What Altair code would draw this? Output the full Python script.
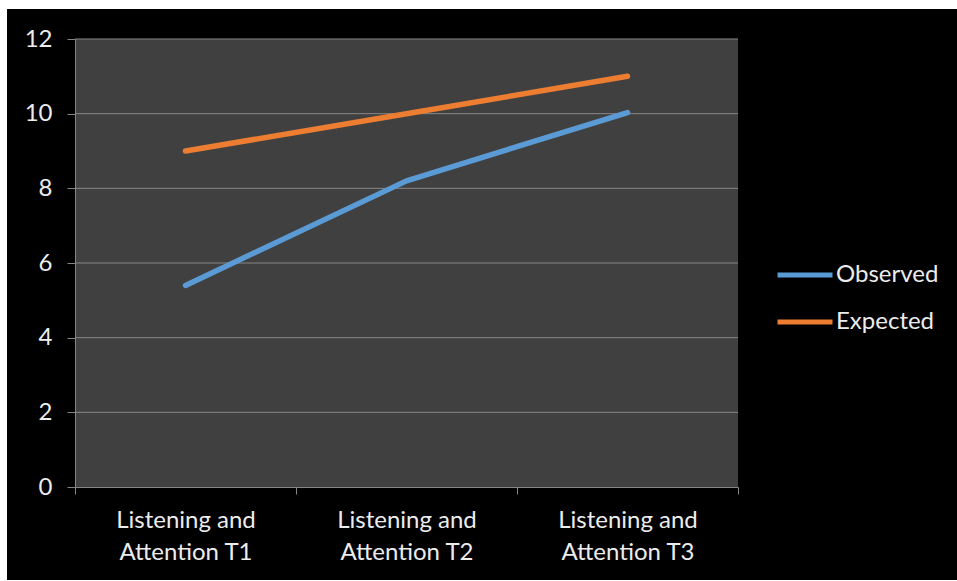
import altair as alt
import pandas as pd

# ---- data -------------------------------------------------------------
categories = [
    "Listening and Attention T1",
    "Listening and Attention T2",
    "Listening and Attention T3",
]
observed = [5.4, 8.2, 10.03]
expected = [9.0, 10.0, 11.0]
series_names = ["Observed", "Expected"]
series_colors = ["#5B9BD5", "#ED7D31"]
y_ticks = [0, 2, 4, 6, 8, 10, 12]

# ---- layout -----------------------------------------------------------
W, H = 663, 448
PAD_L, PAD_T = 75, 39
TOTAL_W, TOTAL_H = 957, 581
FONT = "Lato"
TEXT = "#ececec"
GRID = "#868686"

rows = []
for c, o, e in zip(categories, observed, expected):
    rows.append({"cat": c, "series": "Observed", "value": o})
    rows.append({"cat": c, "series": "Expected", "value": e})
df = pd.DataFrame(rows)
grid_df = pd.DataFrame({"value": y_ticks[1:]})
one = pd.DataFrame({"k": [0]})

y_scale = alt.Scale(domain=[0, 12], nice=False, zero=True)
y_axis = alt.Axis(
    values=y_ticks, title=None, grid=False, zindex=1,
    domainColor=GRID, tickColor=GRID, tickSize=8, labelPadding=15,
    labelFont=FONT, labelFontSize=24, labelColor=TEXT,
)
y_enc = alt.Y("value:Q", scale=y_scale, axis=y_axis)

# black card behind everything (leaves a thin white margin top/left)
card = alt.Chart(one).mark_rect(color="black").encode(
    x=alt.value(7 - PAD_L), x2=alt.value(TOTAL_W - PAD_L),
    y=alt.value(9 - PAD_T), y2=alt.value(TOTAL_H - 1 - PAD_T),
)
# dark plot area
plot_bg = alt.Chart(one).mark_rect(color="#404040").encode(
    x=alt.value(0), x2=alt.value(W), y=alt.value(0), y2=alt.value(H),
)
# horizontal gridlines
grid = alt.Chart(grid_df).mark_rule(color=GRID, strokeWidth=1).encode(y=y_enc)

lines = alt.Chart(df).mark_line(strokeWidth=5.5, strokeCap="round", strokeJoin="round").encode(
    x=alt.X(
        "cat:N", sort=categories,
        scale=alt.Scale(type="band", paddingInner=0, paddingOuter=0),
        axis=alt.Axis(
            title=None, labelAngle=0, tickBand="extent", zindex=1,
            domainColor=GRID, tickColor=GRID, tickSize=7, labelPadding=14,
            labelFont=FONT, labelFontSize=24, labelColor=TEXT, labelLineHeight=32,
            labelExpr="[slice(datum.label, 0, 13), slice(datum.label, 14)]",
        ),
    ),
    y=y_enc,
    color=alt.Color(
        "series:N",
        scale=alt.Scale(domain=series_names, range=series_colors),
        legend=alt.Legend(
            title=None, orient="none", legendX=700, legendY=206,
            symbolType="stroke", symbolSize=3025, symbolStrokeWidth=5,
            labelFont=FONT, labelFontSize=24, labelColor=TEXT,
            labelOffset=1, rowPadding=5,
        ),
    ),
)

chart = alt.layer(card, plot_bg, grid, lines).properties(
    width=W, height=H,
    padding={"left": PAD_L, "top": PAD_T, "right": TOTAL_W - PAD_L - W, "bottom": TOTAL_H - PAD_T - H},
    autosize=alt.AutoSizeParams(type="none"),
    background="white",
).configure_view(stroke=None)

chart.save("out.html", embed_options={"renderer": "svg", "actions": False})
